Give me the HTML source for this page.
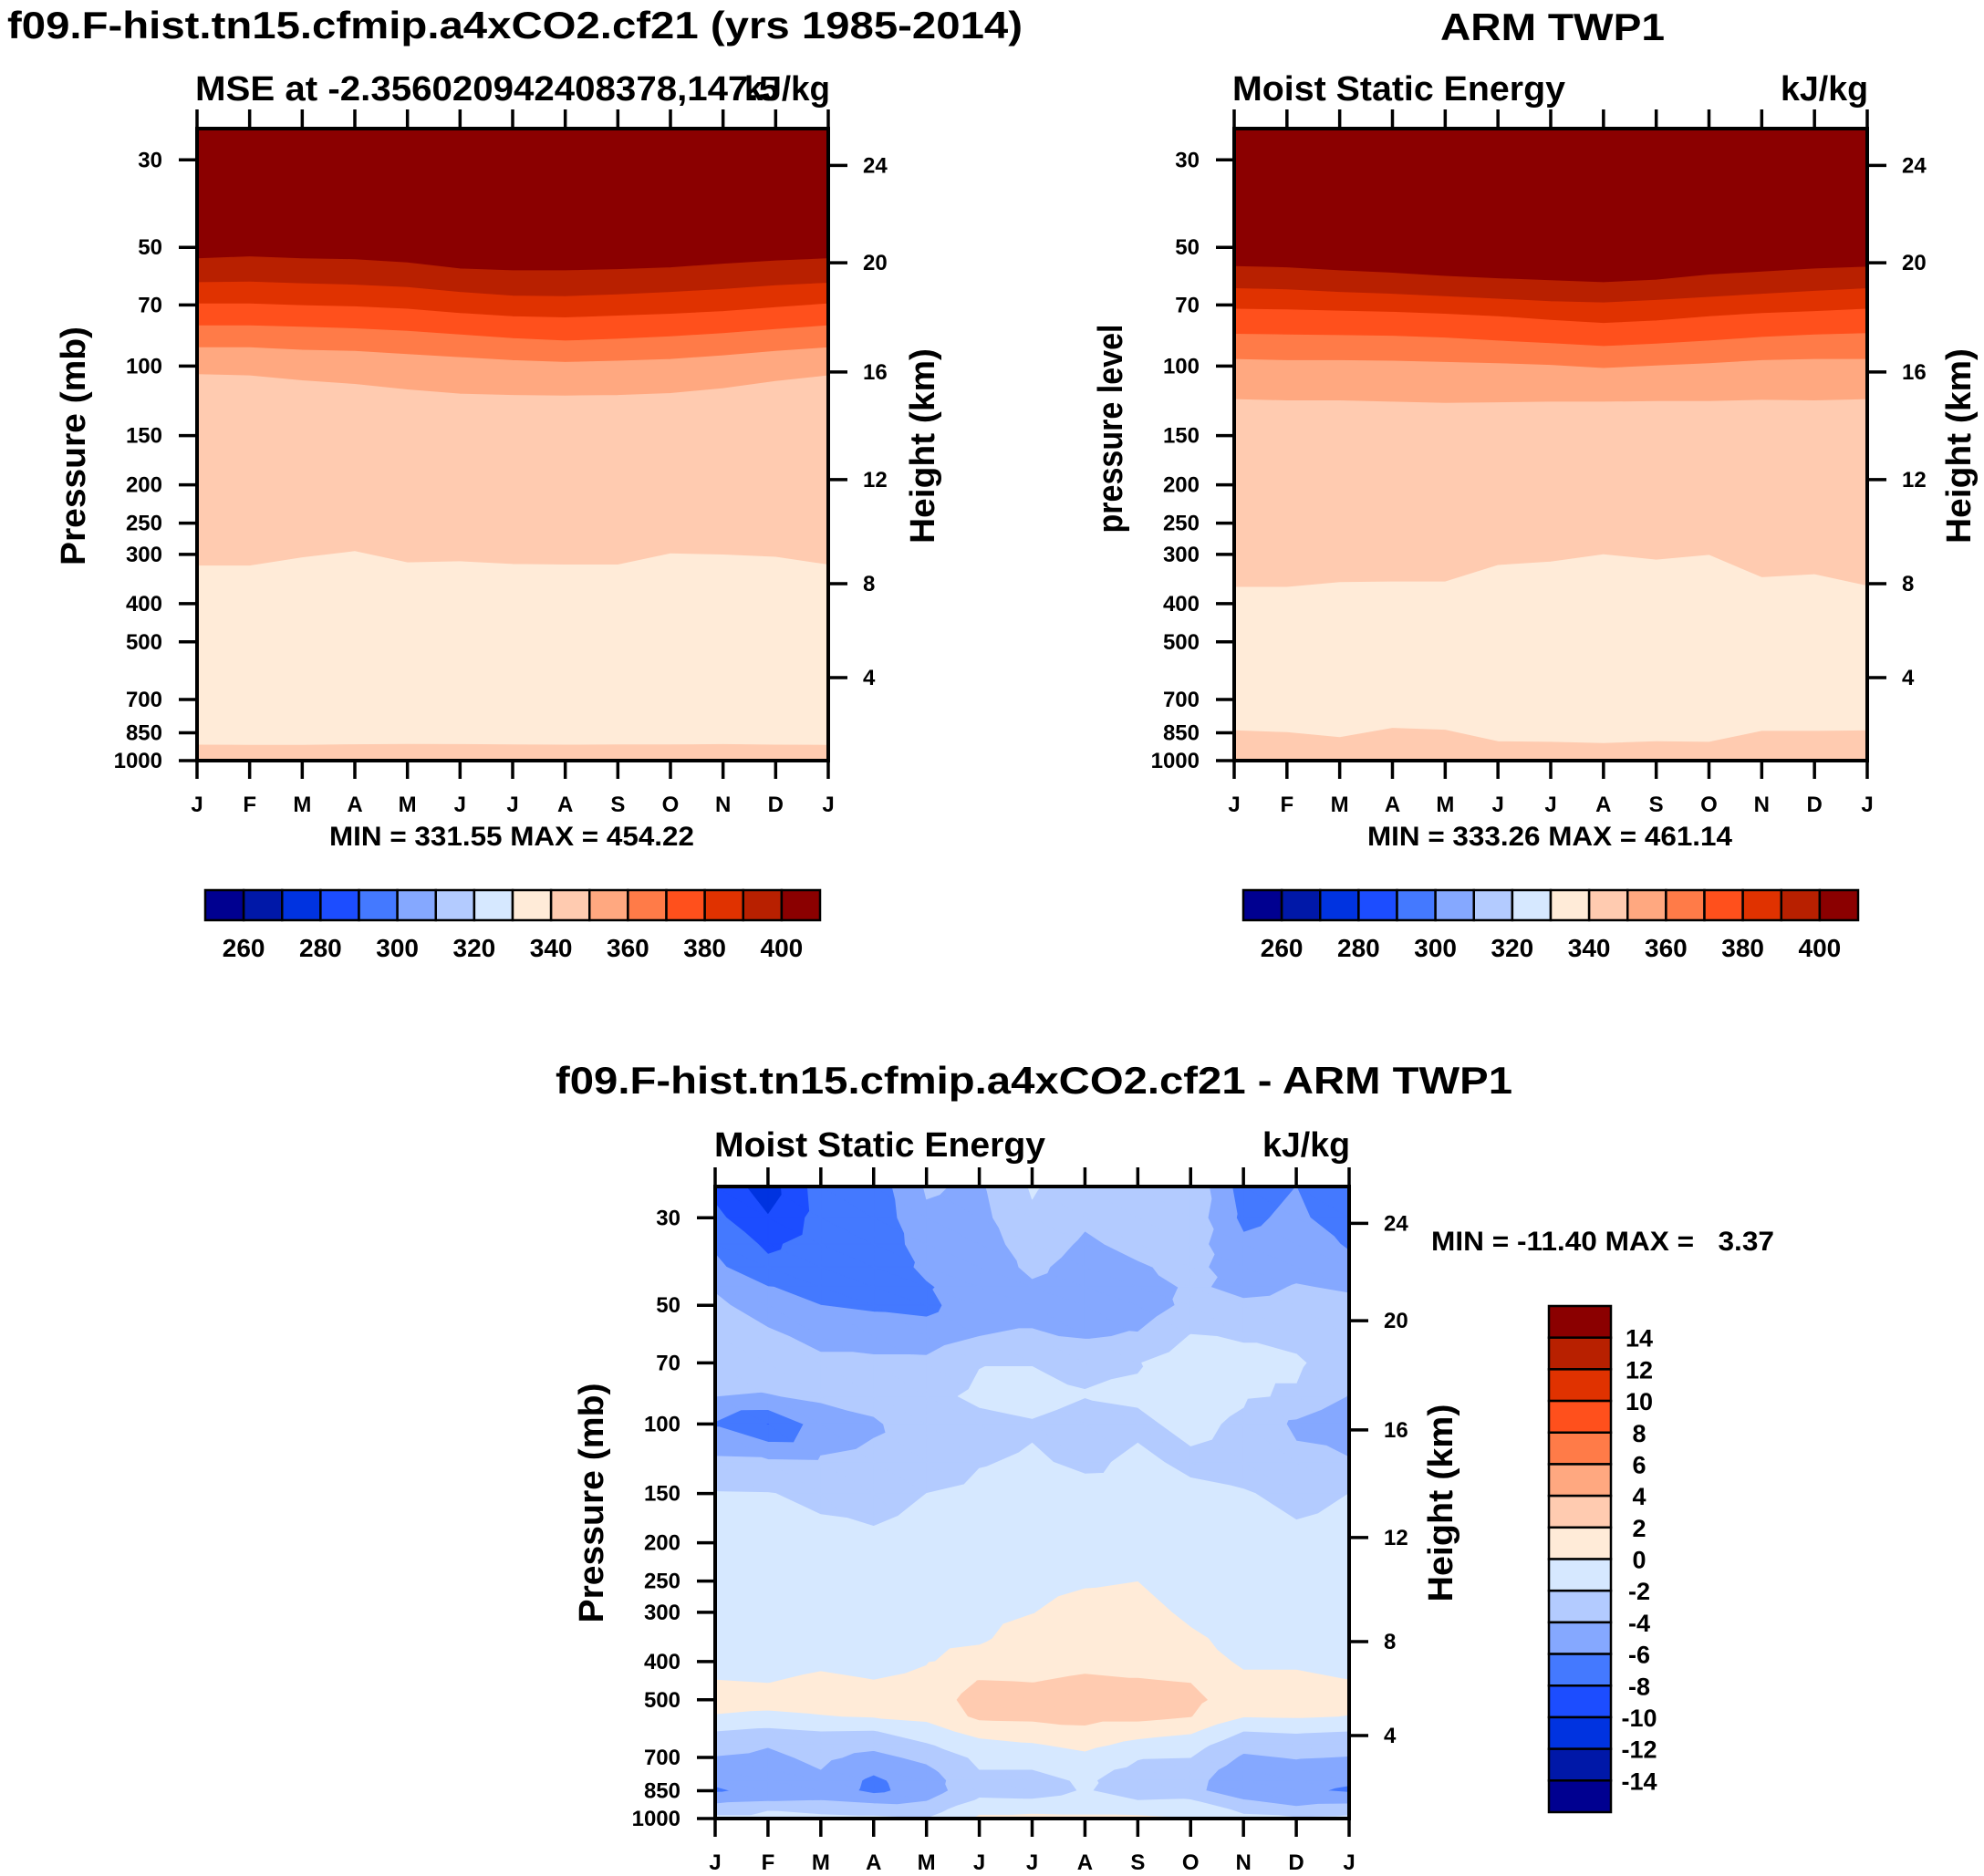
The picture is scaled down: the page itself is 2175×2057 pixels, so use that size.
<!DOCTYPE html>
<html><head><meta charset="utf-8"><title>MSE</title>
<style>html,body{margin:0;padding:0;background:#fff}svg{display:block}text{font-family:"Liberation Sans",Arial,sans-serif;font-weight:bold;fill:#000}</style>
</head><body>
<svg id="fig" xmlns="http://www.w3.org/2000/svg" width="2175" height="2057" viewBox="0 0 2175 2057">
<rect width="2175" height="2057" fill="#fff"/>
<text x="8" y="42" font-size="42" textLength="1113" lengthAdjust="spacingAndGlyphs">f09.F-hist.tn15.cfmip.a4xCO2.cf21 (yrs 1985-2014)</text>
<text x="1579" y="44" font-size="42" textLength="246" lengthAdjust="spacingAndGlyphs">ARM TWP1</text>
<text x="609" y="1199" font-size="42" textLength="1049" lengthAdjust="spacingAndGlyphs">f09.F-hist.tn15.cfmip.a4xCO2.cf21 - ARM TWP1</text>
<text x="214" y="110" font-size="38" textLength="640" lengthAdjust="spacingAndGlyphs">MSE at -2.356020942408378,147.5</text>
<text x="910" y="110" font-size="38" text-anchor="end" textLength="94" lengthAdjust="spacingAndGlyphs">kJ/kg</text>
<text x="1351" y="110" font-size="38" textLength="365" lengthAdjust="spacingAndGlyphs">Moist Static Energy</text>
<text x="2048" y="110" font-size="38" text-anchor="end" textLength="96" lengthAdjust="spacingAndGlyphs">kJ/kg</text>
<text x="783" y="1268" font-size="38" textLength="363" lengthAdjust="spacingAndGlyphs">Moist Static Energy</text>
<text x="1480" y="1268" font-size="38" text-anchor="end" textLength="96" lengthAdjust="spacingAndGlyphs">kJ/kg</text>
<text transform="translate(93,489) rotate(-90)" font-size="38" text-anchor="middle" textLength="262" lengthAdjust="spacingAndGlyphs">Pressure (mb)</text>
<text transform="translate(1024,489) rotate(-90)" font-size="38" text-anchor="middle" textLength="214" lengthAdjust="spacingAndGlyphs">Height (km)</text>
<text transform="translate(1230,470) rotate(-90)" font-size="38" text-anchor="middle" textLength="229" lengthAdjust="spacingAndGlyphs">pressure level</text>
<text transform="translate(2160,489) rotate(-90)" font-size="38" text-anchor="middle" textLength="214" lengthAdjust="spacingAndGlyphs">Height (km)</text>
<text transform="translate(661,1648) rotate(-90)" font-size="38" text-anchor="middle" textLength="263" lengthAdjust="spacingAndGlyphs">Pressure (mb)</text>
<text transform="translate(1592,1648) rotate(-90)" font-size="38" text-anchor="middle" textLength="217" lengthAdjust="spacingAndGlyphs">Height (km)</text>
<text x="561" y="927" font-size="30" text-anchor="middle" textLength="400" lengthAdjust="spacingAndGlyphs">MIN = 331.55 MAX = 454.22</text>
<text x="1699" y="927" font-size="30" text-anchor="middle" textLength="400" lengthAdjust="spacingAndGlyphs">MIN = 333.26 MAX = 461.14</text>
<text x="1569" y="1371" font-size="30" textLength="376" lengthAdjust="spacingAndGlyphs" xml:space="preserve">MIN = -11.40 MAX =   3.37</text>
<g id="layer"></g>
</svg>
<script>
const months = ['J','F','M','A','M','J','J','A','S','O','N','D','J'];
const pTicks = [30,50,70,100,150,200,250,300,400,500,700,850,1000];
const hTicks = [4,8,12,16,20,24];
const hTickPress = [616,356,194,103.5,54.7,31];
const palette = ['#000090','#0018a8','#0033e0','#1c4dff','#4479ff','#85a8ff','#b3cbff','#d6e8ff','#ffebd8','#ffcbb0','#ffa880','#ff7b48','#ff501c','#e03200','#b82000','#8b0000'];
const cbLabelsTop = [260,280,300,320,340,360,380,400];
const cbLabelsDiff = [14,12,10,8,6,4,2,0,-2,-4,-6,-8,-10,-12,-14];
const b400L = [53.4,52.8,53.4,53.7,54.7,56.7,57.3,57.3,56.9,56.3,55.1,54.1,53.4];
const b390L = [61.4,61.2,61.8,62.3,63.2,65.0,66.4,66.6,65.9,65.0,63.9,62.5,61.6];
const b380L = [69.5,69.5,70.2,70.7,71.7,73.5,74.9,75.4,74.6,73.8,72.7,71.0,69.5];
const b370L = [79.0,79.0,79.6,80.4,81.6,83.3,85.1,86.3,85.4,84.2,82.7,80.7,79.0];
const b360L = [89.8,89.8,91.1,91.7,93.4,95.1,96.8,97.8,97.1,96.1,94.1,91.7,89.8];
const b350L = [105,105.8,108.9,111.2,114.8,117.7,118.6,119,118.6,117.3,114,109.3,105.8];
const b340L = [321,321,306,295,315,313,318,319,319,299,301,305,319];
const b330L = [913,914,914,911,909,910,912,913,912,912,910,913,914];
const b400R = [55.9,56.3,57.3,58.1,59.2,60.0,60.7,61.4,60.5,58.7,57.7,56.7,56.1];
const b390R = [63.6,64.0,65.0,65.7,66.6,67.6,68.6,69.1,68.1,66.9,65.7,64.6,63.6];
const b380R = [71.7,72.0,72.5,73.0,73.8,74.9,76.5,77.9,76.8,74.9,73.5,72.7,71.7];
const b370R = [83.0,83.3,83.6,83.9,84.8,86.3,87.6,89.1,87.9,86.3,84.5,83.3,82.7];
const b360R = [96.1,96.8,96.8,97.1,97.8,98.5,99.5,101.3,99.9,98.5,96.8,96.1,96.1];
const b350R = [121.5,122.4,122.4,123.3,124.2,123.8,123.3,123.3,122.9,122.9,122,122.4,121.5];
const b340R = [363.6,363.6,353.6,352.3,352.3,320,313.5,300.5,310,301.5,343.6,337.6,361];
const b330R = [839.7,848.7,873.4,828,836.7,895,898,904.5,895,898,842.7,842.7,839.7];
const diffLevels = [25,30,35,40,45,50,60,70,85,100,125,150,200,250,300,350,400,450,500,550,600,650,700,750,800,850,900,950,1000];
const diffValues = [
[-8.6,-11.0,-7.0,-7.2,-3.8,-4.3,-1.8,-3.0,-2.6,-2.4,-7.0,-6.0,-8.0],
[-7.5,-9.9,-7.2,-7.4,-4.3,-4.6,-2.3,-3.7,-3.0,-2.8,-6.5,-5.5,-7.4],
[-6.3,-8.4,-7.0,-7.5,-5.0,-5.0,-3.0,-4.3,-3.5,-3.2,-5.6,-5.0,-6.2],
[-5.6,-7.5,-6.8,-7.3,-5.6,-5.2,-3.6,-4.8,-4.2,-3.5,-5.0,-4.5,-5.5],
[-4.2,-5.95,-6.4,-7.0,-6.2,-5.0,-4.3,-5.0,-5.0,-3.7,-4.5,-3.9,-4.2],
[-3.6,-5.0,-6.0,-6.3,-6.6,-4.6,-4.6,-5.0,-5.2,-3.5,-3.7,-3.5,-3.6],
[-3.2,-3.6,-4.6,-4.9,-5.0,-4.0,-3.8,-4.2,-3.8,-1.9,-2.1,-2.6,-3.2],
[-3.3,-3.0,-3.6,-3.6,-3.6,-2.1,-2.1,-2.2,-2.1,-0.8,-1.7,-1.7,-3.3],
[-4.0,-4.1,-3.7,-3.2,-2.6,-1.6,-1.2,-1.95,-1.8,-1.2,-1.8,-2.2,-4.1],
[-6.2,-8.1,-5.0,-4.3,-2.7,-2.6,-2.2,-2.9,-2.3,-1.6,-2.3,-4.4,-6.0],
[-3.6,-3.7,-3.8,-3.5,-3.0,-2.1,-1.8,-2.3,-1.7,-2.3,-2.6,-3.5,-3.7],
[-1.9,-1.95,-2.3,-2.6,-2.0,-1.6,-1.4,-1.5,-1.45,-1.7,-1.9,-2.35,-2.0],
[-1.5,-1.5,-1.6,-1.7,-1.3,-1.2,-1.0,-0.8,-0.9,-1.3,-1.5,-1.7,-1.5],
[-1.2,-1.2,-1.2,-1.3,-1.0,-0.8,-0.6,-0.2,-0.02,-0.9,-1.2,-1.3,-1.2],
[-1.0,-1.0,-0.9,-1.0,-0.8,-0.5,-0.05,0.6,0.7,-0.4,-0.9,-1.0,-1.0],
[-0.8,-0.8,-0.6,-0.8,-0.4,-0.2,0.6,1.0,1.1,0.3,-0.6,-0.7,-0.8],
[-0.6,-0.6,-0.3,-0.6,-0.1,0.5,1.2,1.5,1.5,1.0,-0.3,-0.3,-0.5],
[0.05,-0.05,0.3,0.05,0.4,2.1,1.95,2.3,2.1,1.95,0.4,0.4,0.05],
[0.6,0.5,0.8,0.7,0.9,2.8,2.7,2.9,2.8,2.5,0.9,0.8,0.6],
[-0.1,-0.3,-0.1,0.15,0.5,2.4,2.5,2.6,2.6,2.05,0.1,0.2,-0.05],
[-2.0,-2.5,-2.0,-2.1,-0.9,0.8,1.0,1.6,0.8,0.3,-2.0,-1.8,-2.0],
[-3.3,-3.9,-3.0,-3.5,-2.2,-0.8,-0.2,0.5,-0.6,-1.2,-3.4,-3.0,-3.3],
[-4.1,-4.4,-3.6,-4.6,-3.5,-1.6,-1.2,-0.5,-1.9,-2.0,-4.3,-3.9,-4.1],
[-5.2,-5.0,-4.0,-5.6,-4.4,-2.0,-2.0,-1.5,-2.4,-2.9,-5.0,-4.6,-5.2],
[-5.6,-5.2,-4.6,-6.4,-4.8,-2.7,-2.5,-1.8,-2.7,-3.3,-5.4,-5.2,-5.7],
[-6.3,-5.3,-4.8,-6.5,-5.0,-2.6,-2.6,-1.9,-2.6,-3.4,-5.5,-5.6,-6.3],
[-4.6,-4.2,-4.0,-4.8,-4.1,-1.8,-1.9,-1.5,-2.0,-1.9,-3.9,-4.7,-4.6],
[-3.0,-2.1,-2.5,-2.5,-3.0,-0.5,-0.3,-0.3,-0.4,-0.8,-2.4,-3.6,-3.0],
[-1.5,-1.5,-1.6,-1.8,-2.0,0.3,0.3,0.2,0.2,0.0,-1.6,-1.8,-1.5]
];

const NS = 'http://www.w3.org/2000/svg';
const layer = document.getElementById('layer');
function mk(tag, attrs, parent) {
  const e = document.createElementNS(NS, tag);
  for (const k in attrs) e.setAttribute(k, attrs[k]);
  (parent || layer).appendChild(e);
  return e;
}
function axes(f) {
  const xs = i => f.x0 + (f.x1 - f.x0) * i / 12;
  const ys = p => f.y1 - (f.y1 - f.y0) * Math.log(1000 / p) / Math.log(1000 / 25);
  return {xs, ys};
}

function drawBands(f, name, bounds, colorIdx) {
  const {xs, ys} = axes(f);
  const g = mk('g', {});
  
  
  const top = months.map(() => 25), bot = months.map(() => 1000);
  const all = [top].concat(bounds).concat([bot]);
  for (let k = 0; k < all.length - 1; k++) {
    const A = all[k], B = all[k + 1];
    let pts = [];
    for (let i = 0; i < 13; i++) pts.push(xs(i).toFixed(1) + ',' + ys(A[i]).toFixed(1));
    for (let i = 12; i >= 0; i--) pts.push(xs(i).toFixed(1) + ',' + ys(B[i]).toFixed(1));
    const pg = mk('polygon', {points: pts.join(' '), fill: palette[colorIdx[k]], stroke: palette[colorIdx[k]], 'stroke-width': 0.8}, g);
    
    
  }
}

function clipPoly(poly, lev, above) {
  const out = [];
  const inside = q => above ? q.v >= lev : q.v < lev;
  for (let i = 0; i < poly.length; i++) {
    const c = poly[i], pr = poly[(i + poly.length - 1) % poly.length];
    const ci = inside(c), pi = inside(pr);
    if (ci !== pi) {
      const t = (lev - pr.v) / (c.v - pr.v);
      out.push({x: pr.x + t * (c.x - pr.x), y: pr.y + t * (c.y - pr.y), v: lev});
    }
    if (ci) out.push(c);
  }
  return out;
}

function drawField(f, name) {
  const {xs, ys} = axes(f);
  const g = mk('g', {});
  
  
  const node = (i, j) => ({x: xs(i), y: ys(diffLevels[j]), v: diffValues[j][i]});
  const paths = palette.map(() => '');
  for (let j = 0; j < diffLevels.length - 1; j++) {
    for (let i = 0; i < 12; i++) {
      const a = node(i, j), b = node(i + 1, j), c = node(i + 1, j + 1), d = node(i, j + 1);
      const tris = [[a, b, c], [a, c, d]];
      for (const tri of tris) {
        for (let k = 0; k < 16; k++) {
          let poly = tri;
          if (k > 0) poly = clipPoly(poly, -16 + 2 * k, true);
          if (poly.length < 3) continue;
          if (k < 15) poly = clipPoly(poly, -14 + 2 * k, false);
          if (poly.length < 3) continue;
          paths[k] += 'M' + poly.map(q => q.x.toFixed(1) + ',' + q.y.toFixed(1)).join('L') + 'Z';
        }
      }
    }
  }
  paths.forEach((d, k) => {
    if (!d) return;
    const p = mk('path', {d: d, fill: palette[k], stroke: palette[k], 'stroke-width': 1, 'stroke-linejoin': 'round'}, g);
    
    
  });
}

function drawAxes(f, name) {
  const {xs, ys} = axes(f);
  const g = mk('g', {stroke: '#000', 'stroke-width': 3.5, fill: 'none'});
  
  
  const fr = mk('rect', {x: f.x0, y: f.y0, width: f.x1 - f.x0, height: f.y1 - f.y0, 'stroke-width': 4}, g);
  
  
  const tl = mk('g', {'font-size': 24, 'text-anchor': 'middle'});
  
  
  for (let i = 0; i < 13; i++) {
    const x = xs(i);
    mk('line', {x1: x, x2: x, y1: f.y0, y2: f.y0 - 21}, g);
    mk('line', {x1: x, x2: x, y1: f.y1, y2: f.y1 + 20}, g);
    const t = mk('text', {x: x, y: f.y1 + 56}, tl);
    t.textContent = months[i];
    
    
  }
  pTicks.forEach(p => {
    const y = ys(p);
    mk('line', {x1: f.x0, x2: f.x0 - 20, y1: y, y2: y}, g);
    const t = mk('text', {x: f.x0 - 38, y: y + 8, 'text-anchor': 'end'}, tl);
    t.textContent = p;
    
    
  });
  hTicks.forEach((h, k) => {
    const y = ys(hTickPress[k]);
    mk('line', {x1: f.x1, x2: f.x1 + 21, y1: y, y2: y}, g);
    const t = mk('text', {x: f.x1 + 38, y: y + 8, 'text-anchor': 'start'}, tl);
    t.textContent = h;
    
    
  });
}

function hColorbar(x0, x1, y0, y1, name) {
  const g = mk('g', {});
  
  
  const w = (x1 - x0) / 16;
  palette.forEach((c, k) => {
    const r = mk('rect', {x: x0 + k * w, y: y0, width: w, height: y1 - y0, fill: c, stroke: '#000', 'stroke-width': 2.5}, g);
    
    
  });
  cbLabelsTop.forEach((v, k) => {
    const t = mk('text', {x: x0 + (2 * k + 1) * w, y: y1 + 40, 'font-size': 28, 'text-anchor': 'middle'}, g);
    t.textContent = v;
    
    
  });
}
function vColorbar(x0, x1, y0, y1, name) {
  const g = mk('g', {});
  
  
  const h = (y1 - y0) / 16;
  for (let k = 0; k < 16; k++) {
    const r = mk('rect', {x: x0, y: y0 + k * h, width: x1 - x0, height: h, fill: palette[15 - k], stroke: '#000', 'stroke-width': 2.5}, g);
    
    
  }
  cbLabelsDiff.forEach((v, k) => {
    const t = mk('text', {x: 1797, y: y0 + (k + 1) * h + 10, 'font-size': 27, 'text-anchor': 'middle'}, g);
    t.textContent = v;
    
    
  });
}

const FL = {x0: 216, x1: 908, y0: 141, y1: 834};
const FR = {x0: 1353, x1: 2047, y0: 141, y1: 834};
const FB = {x0: 784, x1: 1479, y0: 1301, y1: 1994};
const topColors = [15, 14, 13, 12, 11, 10, 9, 8, 9];
drawBands(FL, 'model', [b400L, b390L, b380L, b370L, b360L, b350L, b340L, b330L], topColors);
drawBands(FR, 'obs', [b400R, b390R, b380R, b370R, b360R, b350R, b340R, b330R], topColors);
drawField(FB, 'diff');
drawAxes(FL, 'model');
drawAxes(FR, 'obs');
drawAxes(FB, 'diff');
hColorbar(225, 899, 976, 1009, 'model-colorbar');
hColorbar(1363, 2037, 976, 1009, 'obs-colorbar');
vColorbar(1698, 1766, 1432, 1987, 'diff-colorbar');
</script>
</body></html>
